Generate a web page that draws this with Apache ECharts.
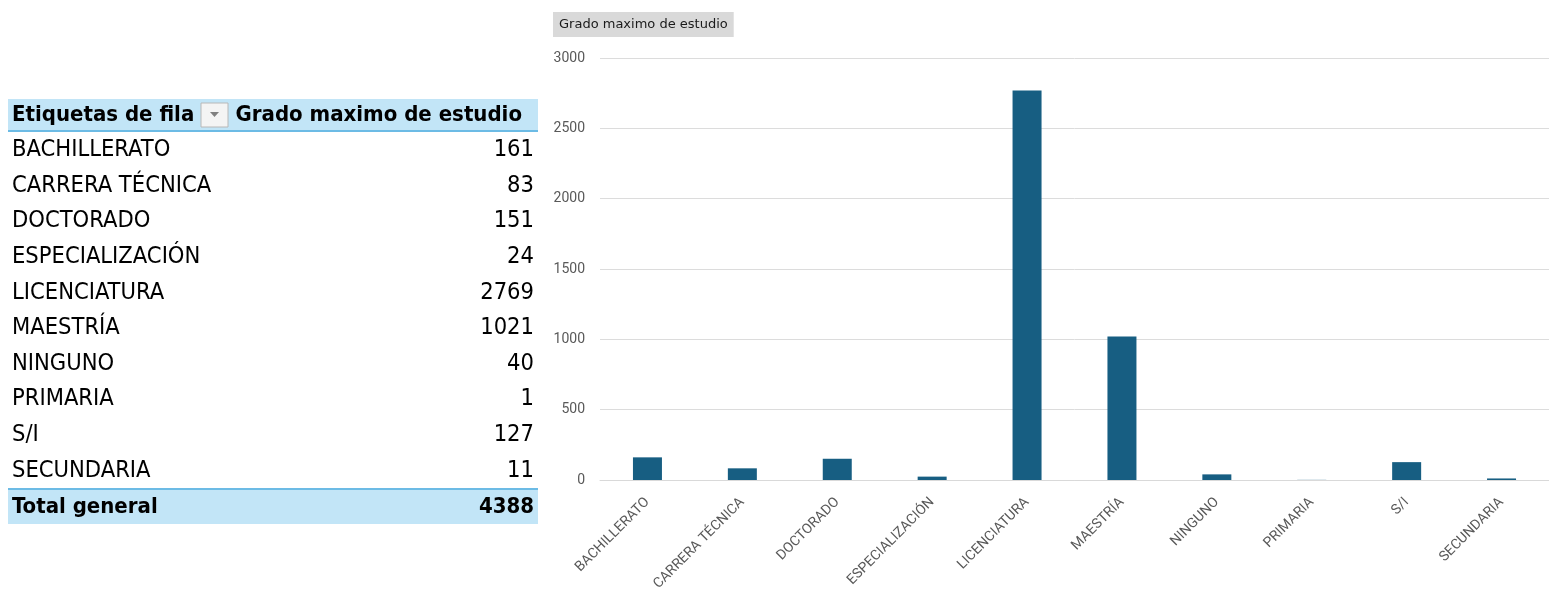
<!DOCTYPE html>
<html><head><meta charset="utf-8">
<script src="https://cdn.jsdelivr.net/npm/echarts@6/dist/echarts.min.js"></script>
<style>html,body{margin:0;padding:0;background:#fff}#c{width:1549px;height:606px}</style>
</head><body><div id="c"></div>
<script>
const categories = ['BACHILLERATO','CARRERA TÉCNICA','DOCTORADO','ESPECIALIZACIÓN','LICENCIATURA','MAESTRÍA','NINGUNO','PRIMARIA','S/I','SECUNDARIA'];
const values = [161, 83, 151, 24, 2769, 1021, 40, 1, 127, 11];
const seriesName = 'Grado maximo de estudio';
const rowHeaderLabel = 'Etiquetas de fila';
const totalLabel = 'Total general';
const totalValue = 4388;

const tableFont = "'Liberation Sans Narrow', 'DejaVu Sans Condensed', sans-serif";
const tblLeft = 8, tblRight = 538, textL = 12, textR = 534;
const headerY = 115, firstRowY = 150, rowStep = 35.6;

const graphic = [];
graphic.push({type:'rect', shape:{x:tblLeft, y:99, width:tblRight-tblLeft, height:32}, style:{fill:'#c2e5f7'}, z:1});
graphic.push({type:'line', shape:{x1:tblLeft, y1:131, x2:tblRight, y2:131}, style:{stroke:'#6cbbe5', lineWidth:2}, z:2});
graphic.push({type:'rect', shape:{x:201, y:103, width:27, height:24}, style:{fill:'#f4f4f4', stroke:'#b8b8b8', lineWidth:1}, z:2});
graphic.push({type:'polygon', shape:{points:[[210,112],[219,112],[214.5,117]]}, style:{fill:'#808080'}, z:3});
graphic.push({type:'text', x:textL, y:headerY, style:{text:rowHeaderLabel, font:"bold 22px " + tableFont, fill:'#000', verticalAlign:'middle', textAlign:'left'}, z:3});
graphic.push({type:'text', x:522, y:headerY, style:{text:seriesName, font:"bold 22px " + tableFont, fill:'#000', verticalAlign:'middle', textAlign:'right'}, z:3});
categories.forEach((c, i) => {
  const y = firstRowY + i * rowStep;
  graphic.push({type:'text', x:textL, y:y, style:{text:c, font:"23.5px " + tableFont, fill:'#000', verticalAlign:'middle', textAlign:'left'}, z:3});
  graphic.push({type:'text', x:textR, y:y, style:{text:String(values[i]), font:"23.5px " + tableFont, fill:'#000', verticalAlign:'middle', textAlign:'right'}, z:3});
});
graphic.push({type:'rect', shape:{x:tblLeft, y:489, width:tblRight-tblLeft, height:35}, style:{fill:'#c2e5f7'}, z:1});
graphic.push({type:'line', shape:{x1:tblLeft, y1:489, x2:tblRight, y2:489}, style:{stroke:'#6cbbe5', lineWidth:2}, z:2});
graphic.push({type:'text', x:textL, y:507, style:{text:totalLabel, font:"bold 22px " + tableFont, fill:'#000', verticalAlign:'middle', textAlign:'left'}, z:3});
graphic.push({type:'text', x:textR, y:507, style:{text:String(totalValue), font:"bold 22px " + tableFont, fill:'#000', verticalAlign:'middle', textAlign:'right'}, z:3});

const chart = echarts.init(document.getElementById('c'), null, {renderer:'canvas'});
chart.setOption({
  backgroundColor:'#fff',
  animation:false,
  title:{
    text:seriesName, left:553, top:12,
    backgroundColor:'#d9d9d9', padding:[6,6,6,6],
    textStyle:{fontSize:13, fontWeight:'normal', color:'#1a1a1a', fontFamily:'DejaVu Sans'}
  },
  graphic: graphic,
  grid:{left:600, top:58, width:957, height:422, containLabel:false},
  xAxis:{
    type:'category', data:categories, z:5,
    axisLine:{show:true, lineStyle:{color:'#d9d9d9', width:1}},
    axisTick:{show:false},
    axisLabel:{rotate:45, interval:0, margin:20, fontSize:14, color:'#595959', fontFamily:'Roboto'}
  },
  yAxis:{
    type:'value', min:0, max:3000, interval:500,
    axisLine:{show:false}, axisTick:{show:false},
    axisLabel:{fontSize:14, color:'#595959', margin:15, fontFamily:'Roboto', formatter:(v) => String(v)},
    splitLine:{lineStyle:{color:'#dcdcdc', width:1}}
  },
  series:[{
    name:seriesName, type:'bar', data:values, barWidth:29,
    itemStyle:{color:'#175e82'}
  }]
});
</script></body></html>
